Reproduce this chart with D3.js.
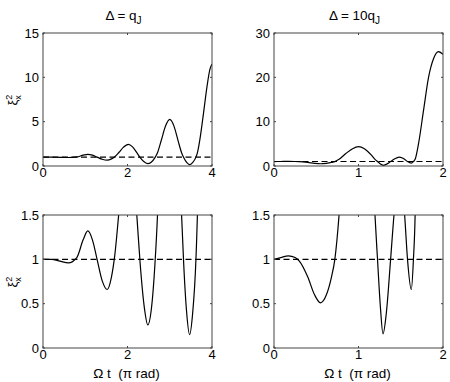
<!DOCTYPE html>
<html>
<head>
  <meta charset="utf-8">
  <script src="https://d3js.org/d3.v7.min.js"></script>
  <style>
    body { margin: 0; background: #fff; }
    text { font-family: "Liberation Sans", Arial, sans-serif; fill: #000; }
  </style>
</head>
<body>
  <svg id="chart" width="450" height="382"></svg>

  <script>
    // squeezing parameter, Delta = qJ (t in pi rad)
    const tA = [0.00, 0.20, 0.40, 0.60, 0.80, 0.95, 1.06, 1.17, 1.28, 1.40, 1.52, 1.62, 1.70, 1.80, 1.90,
                2.02, 2.12, 2.22, 2.30, 2.40, 2.48, 2.56, 2.65, 2.71, 2.80, 2.90, 3.00, 3.10, 3.20, 3.28,
                3.33, 3.40, 3.47, 3.54, 3.62, 3.66, 3.72, 3.80, 3.88, 3.95, 4.00];
    const xiA = [1.00, 1.00, 0.98, 0.96, 1.02, 1.22, 1.32, 1.22, 1.00, 0.76, 0.66, 0.80, 1.05, 1.55, 2.10,
                 2.45, 2.15, 1.50, 0.95, 0.45, 0.26, 0.42, 0.95, 1.50, 2.90, 4.50, 5.25, 4.50, 2.80, 1.50,
                 0.95, 0.40, 0.15, 0.38, 1.00, 1.60, 3.20, 6.00, 8.90, 10.9, 11.5];

    // Delta = 10 qJ
    const tB = [0.00, 0.08, 0.17, 0.25, 0.30, 0.40, 0.48, 0.55, 0.62, 0.68, 0.72, 0.77, 0.85, 0.93, 1.00,
                1.07, 1.15, 1.195, 1.225, 1.26, 1.29, 1.33, 1.38, 1.42, 1.48, 1.52, 1.546, 1.58, 1.625,
                1.65, 1.67, 1.71, 1.77, 1.83, 1.89, 1.945, 2.00];
    const xiB = [1.00, 1.02, 1.04, 1.02, 0.98, 0.80, 0.60, 0.51, 0.60, 0.80, 1.00, 1.50, 2.80, 3.90, 4.35,
                 3.90, 2.50, 1.50, 1.00, 0.45, 0.16, 0.40, 1.00, 1.50, 2.00, 1.80, 1.50, 1.00, 0.66,
                 1.00, 1.50, 5.00, 12.6, 20.1, 24.3, 25.8, 25.2];

    const titles = ["\u0394 = q", "\u0394 = 10q"];
    const xTicksA = [0, 2, 4];
    const xTicksB = [0, 1, 2];
    const yTicksTopA = [0, 5, 10, 15];
    const yTicksTopB = [0, 10, 20, 30];
    const yTicksZoom = [0, 0.5, 1, 1.5];
    const reference = 1;

    const svg = d3.select("#chart");
    const cols = [{ x0: 43, x1: 212 }, { x0: 274, x1: 443 }];
    const rows = [{ y0: 33, y1: 166 }, { y0: 215, y1: 348 }];

    const panels = [
      { col: 0, row: 0, t: tA, v: xiA, xd: [0, 4], yd: [0, 15], xt: xTicksA, yt: yTicksTopA, title: titles[0], ylab: true },
      { col: 1, row: 0, t: tB, v: xiB, xd: [0, 2], yd: [0, 30], xt: xTicksB, yt: yTicksTopB, title: titles[1] },
      { col: 0, row: 1, t: tA, v: xiA, xd: [0, 4], yd: [0, 1.5], xt: xTicksA, yt: yTicksZoom, ylab: true, xlab: true },
      { col: 1, row: 1, t: tB, v: xiB, xd: [0, 2], yd: [0, 1.5], xt: xTicksB, yt: yTicksZoom, xlab: true }
    ];

    const tl = 2; // tick length (inward)

    panels.forEach((p, i) => {
      const c = cols[p.col], r = rows[p.row];
      const x = d3.scaleLinear().domain(p.xd).range([c.x0, c.x1]);
      const y = d3.scaleLinear().domain(p.yd).range([r.y1, r.y0]);
      const g = svg.append("g");

      svg.append("clipPath").attr("id", "clip" + i)
        .append("rect").attr("x", c.x0).attr("y", r.y0)
        .attr("width", c.x1 - c.x0).attr("height", r.y1 - r.y0);

      const plot = g.append("g").attr("clip-path", `url(#clip${i})`);

      // dashed reference line
      plot.append("line")
        .attr("x1", x(p.xd[0])).attr("x2", x(p.xd[1]))
        .attr("y1", y(reference)).attr("y2", y(reference))
        .attr("stroke", "#000").attr("stroke-width", 1.1)
        .attr("stroke-dasharray", "6,3.5");

      const pts = p.t.map((t, k) => [t, p.v[k]]);
      const line = d3.line().x(d => x(d[0])).y(d => y(d[1])).curve(d3.curveMonotoneX);
      plot.append("path").datum(pts)
        .attr("d", line)
        .attr("fill", "none").attr("stroke", "#000").attr("stroke-width", 1.2);

      // axes box
      g.append("rect")
        .attr("x", c.x0).attr("y", r.y0)
        .attr("width", c.x1 - c.x0).attr("height", r.y1 - r.y0)
        .attr("fill", "none").attr("stroke", "#444").attr("stroke-width", 1);

      // ticks on all sides, pointing in
      const ticks = g.append("g").attr("stroke", "#444").attr("stroke-width", 1);
      p.xt.forEach(v => {
        ticks.append("line").attr("x1", x(v)).attr("x2", x(v)).attr("y1", r.y1).attr("y2", r.y1 - tl);
        ticks.append("line").attr("x1", x(v)).attr("x2", x(v)).attr("y1", r.y0).attr("y2", r.y0 + tl);
      });
      p.yt.forEach(v => {
        ticks.append("line").attr("x1", c.x0).attr("x2", c.x0 + tl).attr("y1", y(v)).attr("y2", y(v));
        ticks.append("line").attr("x1", c.x1).attr("x2", c.x1 - tl).attr("y1", y(v)).attr("y2", y(v));
      });

      g.selectAll(".xl").data(p.xt).enter().append("text")
        .attr("x", d => x(d)).attr("y", r.y1 + 10.5)
        .attr("text-anchor", "middle").style("font-size", "13px")
        .text(d => d);
      g.selectAll(".yl").data(p.yt).enter().append("text")
        .attr("x", c.x0 - 4).attr("y", d => y(d) + 4.6)
        .attr("text-anchor", "end").style("font-size", "13px")
        .text(d => d);

      if (p.title) {
        const tt = g.append("text")
          .attr("x", (c.x0 + c.x1) / 2 - 4).attr("y", 20)
          .attr("text-anchor", "middle").style("font-size", "13.5px");
        tt.append("tspan").text(p.title);
        tt.append("tspan").attr("dy", 4).style("font-size", "10px").text("J");
      }

      if (p.ylab) {
        const cy = (r.y0 + r.y1) / 2;
        const yl = g.append("text")
          .attr("transform", `translate(17,${cy + 6}) rotate(-90)`)
          .attr("text-anchor", "start").style("font-size", "13px");
        yl.append("tspan").text("\u03be");
        yl.append("tspan").attr("dy", -5).style("font-size", "9px").text("2");
        yl.append("tspan").attr("dx", -5).attr("dy", 9).style("font-size", "9px").text("x");
      }

      if (p.xlab) {
        g.append("text")
          .attr("x", (c.x0 + c.x1) / 2 - 1).attr("y", 378)
          .attr("text-anchor", "middle").style("font-size", "13.5px")
          .attr("xml:space", "preserve")
          .text("\u03a9 t  (\u03c0 rad)");
      }
    });
  </script>
</body>
</html>
